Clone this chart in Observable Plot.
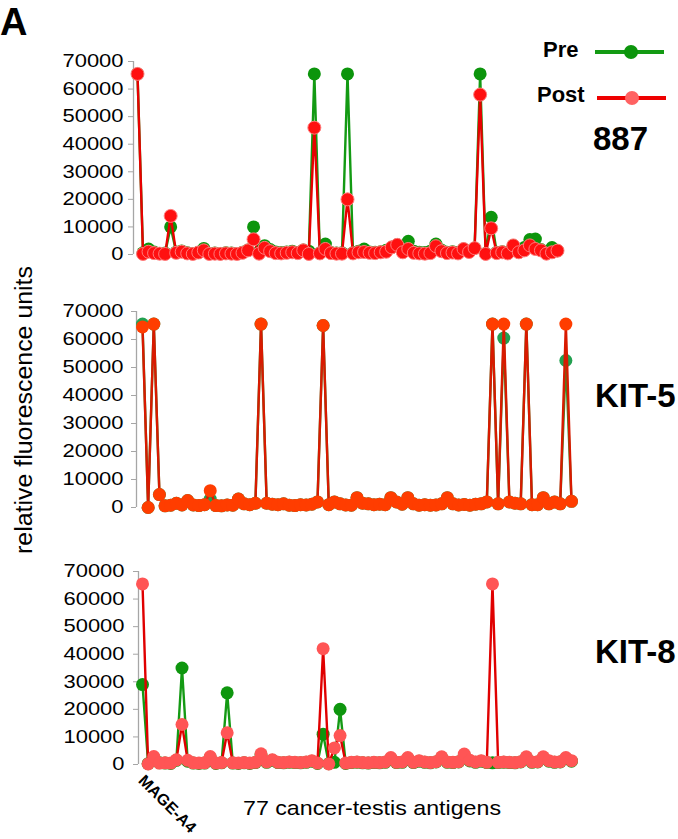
<!DOCTYPE html>
<html><head><meta charset="utf-8">
<script src="https://cdn.jsdelivr.net/npm/d3@7"></script>
<script src="https://cdn.jsdelivr.net/npm/@observablehq/plot@0.6"></script>
<style>
body{margin:0;background:#fff;font-family:"Liberation Sans",Arial,sans-serif;}
#fig{position:relative;width:678px;height:839px;overflow:hidden;background:#fff;}
#fig svg{position:absolute;left:0;}
</style></head><body><div id="fig"></div>
<script>
// ---------------- data ----------------
const panelLetter = "A";
const firstAntigen = "MAGE-A4";
const xAxisTitle = "77 cancer-testis antigens";
const yAxisTitle = "relative fluorescence units";
const seriesNames = ["Pre", "Post"];
const patients = ["887", "KIT-5", "KIT-8"];
const yTicks = [0, 10000, 20000, 30000, 40000, 50000, 60000, 70000];
const antigenIndex = d3.range(77);

const pre887 = [65500,600,2000,900,400,500,10000,900,1300,600,400,800,2200,400,500,300,600,500,400,800,1600,10000,1000,3200,1800,900,700,900,1200,700,1600,1200,65500,500,3800,700,500,600,65500,600,1200,2000,900,800,1000,1500,2600,3500,1200,4800,1200,800,700,1200,3800,1600,800,1000,700,2000,1200,2300,65500,400,13500,800,1000,700,3300,900,2500,5400,5600,1800,600,2500,1400];
const post887 = [65500,200,1000,500,300,200,14000,600,1000,400,200,700,1500,200,300,200,400,300,200,600,1500,5500,300,2400,1200,500,400,600,800,500,1500,200,46000,400,2000,500,300,300,20000,400,800,900,600,500,800,1000,2600,3500,800,2000,600,400,300,500,3000,1200,500,700,400,2000,900,2300,58000,200,9500,500,800,400,3300,800,1500,3300,2000,1500,300,800,1400];

const preKIT5 = [65500,0,65500,4600,600,800,1500,900,2500,900,700,1000,3000,700,600,900,800,3000,1300,1000,1500,65500,1500,1200,1000,1300,800,700,1000,900,1200,2000,65000,1000,2000,1300,900,800,3500,1500,1300,1000,1200,1000,3500,2000,1200,3500,1300,800,1000,800,900,1300,3500,1300,900,1100,800,1200,1300,2000,65500,1300,60500,2000,1500,1300,65500,1000,1000,3500,1300,2000,1300,52500,2200];
const postKIT5 = [64500,0,65500,4600,600,800,1500,900,2500,900,700,1000,6000,700,600,900,800,3000,1300,1000,1500,65500,1500,1200,1000,1300,800,700,1000,900,1200,2000,65000,1000,2000,1300,900,800,3500,1500,1300,1000,1200,1000,3500,2000,1200,3500,1300,800,1000,800,900,1300,3500,1300,900,1100,800,1200,1300,2000,65500,1300,65500,2000,1500,1300,65500,1000,1000,3500,1300,2000,1300,65500,2200];

const preKIT8 = [29000,300,2500,600,500,400,1500,35000,1200,500,400,500,2500,400,600,26000,500,400,600,400,700,3500,800,1500,700,600,800,700,600,800,1200,400,11000,300,800,20000,400,700,800,600,500,700,600,800,2200,700,800,2200,700,1200,800,600,900,2500,800,700,900,3300,1300,800,1200,700,600,700,800,700,600,900,2500,800,900,2500,1200,800,900,2200,1200];
const postKIT8 = [65500,200,2900,500,600,500,1700,14500,1500,600,500,600,2900,500,700,11500,600,500,700,500,800,3900,900,1700,800,700,900,800,700,900,1400,500,42000,200,6000,10500,500,800,900,700,600,800,700,900,2500,800,900,2500,800,1400,900,700,1000,2800,900,800,1000,3800,1500,900,1400,800,65500,800,900,800,700,1000,2800,900,1000,2800,1400,900,1000,2500,1400];

// ---------------- layout / style ----------------
const fig = document.getElementById("fig");
const FONT = "Liberation Sans, Arial, sans-serif";

function panel(pre, post, cfg) {
  const rows = antigenIndex.map(i => ({i, pre: pre[i], post: post[i]}));
  const inset = cfg.firstX - cfg.axisX;
  const marks = [
    Plot.ruleX([0], {dx: -inset, stroke: "#a6a6a6", strokeWidth: 1.3}),
    Plot.axisY({ticks: yTicks, tickSize: 5, tickPadding: cfg.pad, tickFormat: d3.format("d"),
                label: null, stroke: "#a6a6a6", fill: "#000", fontSize: 18}),
    Plot.line(rows, {x: "i", y: "pre", stroke: cfg.greenLine, strokeWidth: 2.4}),
    Plot.dot(rows, {x: "i", y: "pre", r: 6.5, fill: cfg.greenDot, stroke: "none"}),
    Plot.line(rows, {x: "i", y: "post", stroke: cfg.redLine, strokeWidth: 2.4}),
    Plot.dot(rows, {x: "i", y: "post", r: 6.5, fill: cfg.redDot, stroke: cfg.redEdge, strokeWidth: 1})
  ];
  if (cfg.extra) marks.push(...cfg.extra);
  const svg = Plot.plot({
    width: 678,
    height: cfg.height,
    marginLeft: cfg.axisX,
    marginRight: 678 - cfg.lastX,
    marginTop: cfg.plotTop - cfg.top,
    marginBottom: cfg.top + cfg.height - cfg.plotBottom,
    style: {fontFamily: FONT, fontSize: "18px", color: "#000", background: "transparent", overflow: "visible"},
    x: {type: "linear", domain: [0, 76], insetLeft: inset, axis: null},
    y: {domain: [0, 70000], axis: null},
    marks
  });
  svg.style.top = cfg.top + "px";
  // tick labels in the reference are horizontally wide
  d3.select(svg).selectAll('g[aria-label="y-axis tick label"] text').each(function() {
    const t = this.textContent;
    this.setAttribute("textLength", (12.2 * t.length).toFixed(1));
    this.setAttribute("lengthAdjust", "spacingAndGlyphs");
  });
  fig.appendChild(svg);
  return svg;
}

panel(pre887, post887, {top: 0, height: 265, axisX: 133, firstX: 137, lastX: 557, plotTop: 61, plotBottom: 254, pad: 5,
  greenLine: "#139a13", greenDot: "#0c950c", redLine: "#e80000", redDot: "#ff1010", redEdge: "#ff7a7a"});

panel(preKIT5, postKIT5, {top: 270, height: 250, axisX: 136, firstX: 142, lastX: 571, plotTop: 311, plotBottom: 507, pad: 8,
  greenLine: "#3a8f2a", greenDot: "#22a050", redLine: "#d81a00", redDot: "#ff3d00", redEdge: "none"});

panel(preKIT8, postKIT8, {top: 525, height: 314, axisX: 138, firstX: 142, lastX: 571, plotTop: 571, plotBottom: 764, pad: 9,
  greenLine: "#149a14", greenDot: "#0e960e", redLine: "#e00000", redDot: "#ff5555", redEdge: "none",
  extra: [
    Plot.text([{i: 0, label: firstAntigen}], {x: "i", text: "label", frameAnchor: "bottom", dy: 17, dx: -5,
      rotate: 45, textAnchor: "start", fontWeight: "bold", fontSize: 16, fill: "#000"})
  ]});

// ---------------- annotations ----------------
const ann = d3.select(fig).append("svg").attr("width", 678).attr("height", 839)
  .style("top", "0px").style("font-family", FONT);

ann.append("text").attr("x", 0).attr("y", 35).attr("font-size", 38).attr("font-weight", "bold").text(panelLetter);

// legend
const legend = [
  {name: seriesNames[0], tx: 543, ty: 57, ly: 52, x1: 595, x2: 664, mx: 631, line: "#139a13", dot: "#0c950c"},
  {name: seriesNames[1], tx: 537, ty: 102, ly: 98, x1: 597, x2: 666, mx: 632, line: "#ee0000", dot: "#ff6262"}
];
legend.forEach(l => {
  ann.append("text").attr("x", l.tx).attr("y", l.ty).attr("font-size", 22).attr("font-weight", "bold").text(l.name);
  ann.append("line").attr("x1", l.x1).attr("x2", l.x2).attr("y1", l.ly).attr("y2", l.ly)
    .attr("stroke", l.line).attr("stroke-width", 4);
  ann.append("circle").attr("cx", l.mx).attr("cy", l.ly).attr("r", 7).attr("fill", l.dot);
});

// patient labels
[[patients[0], 593, 150], [patients[1], 595, 407], [patients[2], 595, 663]].forEach(([t, x, y]) => {
  ann.append("text").attr("x", x).attr("y", y).attr("font-size", 33).attr("font-weight", "bold").text(t);
});

// axis titles
ann.append("text").attr("transform", "translate(32,410) rotate(-90)").attr("text-anchor", "middle")
  .attr("font-size", 23).attr("textLength", 288).attr("lengthAdjust", "spacingAndGlyphs").text(yAxisTitle);
ann.append("text").attr("x", 243).attr("y", 815).attr("font-size", 21)
  .attr("textLength", 258).attr("lengthAdjust", "spacingAndGlyphs").text(xAxisTitle);
</script></body></html>
